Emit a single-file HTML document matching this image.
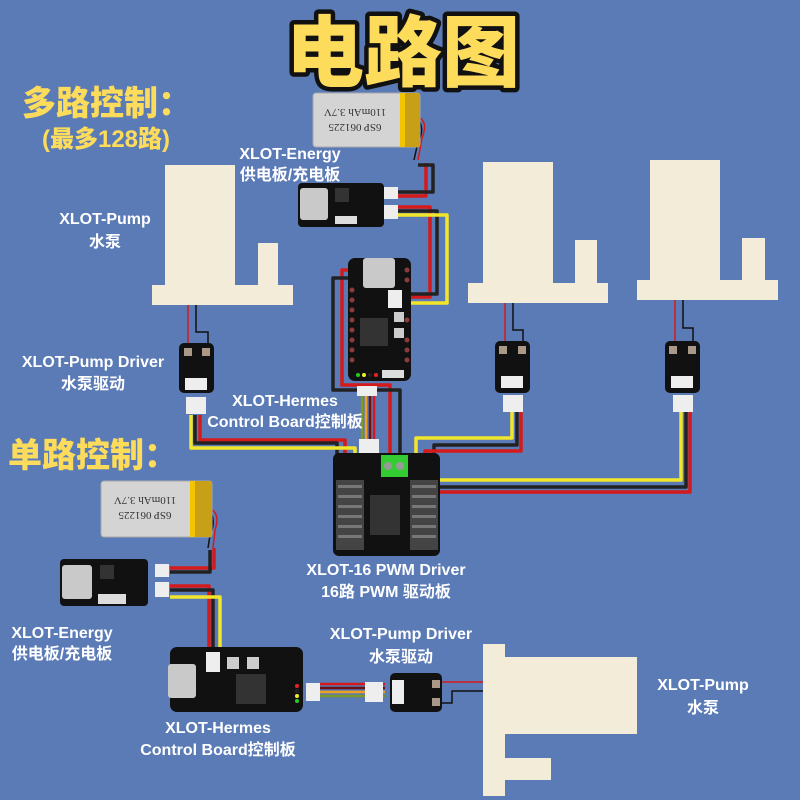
<!DOCTYPE html>
<html><head><meta charset="utf-8"><style>
html,body{margin:0;padding:0;background:#5b7bb7;}
svg{display:block}
.t{font-family:"Liberation Sans","Noto Sans CJK SC",sans-serif;font-weight:bold;fill:#fff;text-anchor:middle;font-size:16px;}
.y{font-family:"Liberation Sans","Noto Sans CJK SC",sans-serif;font-weight:900;fill:#fddc5c;}
.w{fill:none;stroke-width:3.5;stroke-linejoin:round;}
.r{stroke:#d41a1a}.k{stroke:#222}.yl{stroke:#f2e62a}
.pump{fill:#f3ecd8}
.brd{fill:#111}
.pad{fill:#8a3b3b}
.usb{fill:#c9c9c9}
.chip{fill:#333}
.con{fill:#eee}
</style></head><body>
<svg width="800" height="800" viewBox="0 0 800 800" xmlns="http://www.w3.org/2000/svg">
<rect width="800" height="800" fill="#5b7bb7"/>
<!-- title -->
<text x="403" y="80" text-anchor="middle" class="y" font-size="78" stroke="#111" stroke-width="9" paint-order="stroke" style="stroke-linejoin:round">电路图</text>
<text x="22" y="115" class="y" font-size="34">多路控制：</text>
<text x="42" y="147" class="y" font-size="24">(最多128路)</text>
<text x="8" y="467" class="y" font-size="34">单路控制：</text>

<!-- pumps -->
<g class="pump">
<rect x="165" y="165" width="70" height="125"/><rect x="152" y="285" width="141" height="20"/><rect x="258" y="243" width="20" height="45"/>
<rect x="483" y="162" width="70" height="125"/><rect x="468" y="283" width="140" height="20"/><rect x="575" y="240" width="22" height="45"/>
<rect x="650" y="160" width="70" height="125"/><rect x="637" y="280" width="141" height="20"/><rect x="742" y="238" width="23" height="45"/>
<rect x="483" y="644" width="22" height="152"/><rect x="483" y="657" width="154" height="77"/><rect x="483" y="758" width="68" height="22"/>
</g>

<!-- thin pump wires -->
<g fill="none" stroke-width="1.5">
<path d="M188 305 V350" stroke="#d41a1a"/><path d="M196 305 V332 H208 V350" stroke="#111"/>
<path d="M505 303 V348" stroke="#d41a1a"/><path d="M513 303 V330 H523 V348" stroke="#111"/>
<path d="M675 300 V348" stroke="#d41a1a"/><path d="M683 300 V328 H693 V348" stroke="#111"/>
<path d="M442 682 H483" stroke="#d41a1a"/><path d="M442 703 H452 V691 H483" stroke="#111"/>
<path d="M420 118 q8 5 2 20 l-4 22" stroke="#d41a1a"/><path d="M420 122 q4 10 -2 20 l-4 18" stroke="#111"/>
<path d="M212 510 q8 5 3 20 l-2 18" stroke="#d41a1a"/><path d="M212 515 q3 10 -2 20 l-2 13" stroke="#111"/>
</g>

<!-- thick wires -->
<g>
<path class="w r" d="M388 196 H426 V163"/><path class="w k" d="M388 192 H433 V165 H418"/>
<path class="w r" d="M388 207 H430 V297 H410"/><path class="w k" d="M388 211 H437 V294 H410"/><path class="w yl" d="M388 215 H447 V303 H410"/>
<path class="w r" d="M355 270 H342 V385 H390 V456"/><path class="w k" d="M355 278 H333 V390 H400 V456"/>
<path class="w r" d="M200 415 V440 H345 V480"/><path class="w k" d="M195 415 V443 H337 V480"/><path class="w yl" d="M191 415 V448 H355 V480"/>
<path class="w yl" d="M512 410 V438 H416 V482"/><path class="w k" d="M517 410 V445 H434 V492"/><path class="w r" d="M521 410 V451 H425 V494"/>
<path class="w yl" d="M681 410 V480 H418"/><path class="w k" d="M686 410 V487 H434"/><path class="w r" d="M690 410 V492 H424"/>
<path class="w r" d="M170 568 H214 V548"/><path class="w k" d="M170 572 H210 V550"/>
<path class="w r" d="M170 586 H209 V652"/><path class="w k" d="M170 590 H213 V652"/><path class="w yl" d="M170 597 H220 V652"/>
</g>
<!-- short ribbon wires -->
<g stroke-width="2.5">
<path d="M362 395 V440" stroke="#7a9a2a"/><path d="M366 395 V440" stroke="#f0a020"/><path d="M370 395 V440" stroke="#6a1010"/><path d="M374 395 V440" stroke="#d41a1a"/>
<path d="M320 684 H385" stroke="#d41a1a"/><path d="M320 688 H385" stroke="#6a1010"/><path d="M320 692 H385" stroke="#f0a020"/><path d="M320 696 H385" stroke="#7a9a2a"/>
</g>

<!-- batteries -->
<g>
<rect x="313" y="93" width="107" height="54" rx="3" fill="#d4d4d4" stroke="#aaa"/><rect x="400" y="93" width="20" height="54" fill="#c8a018"/><rect x="400" y="93" width="5" height="54" fill="#f5c400"/>
<text x="355" y="115" font-family="Liberation Serif,serif" font-size="11" fill="#333" text-anchor="middle" transform="rotate(180 355 112)">110mAh 3.7V</text>
<text x="355" y="132" font-family="Liberation Serif,serif" font-size="11" fill="#333" text-anchor="middle" transform="rotate(180 355 128)">6SP 061225</text>
<rect x="101" y="481" width="111" height="56" rx="3" fill="#d4d4d4" stroke="#aaa"/><rect x="190" y="481" width="22" height="56" fill="#c8a018"/><rect x="190" y="481" width="5" height="56" fill="#f5c400"/>
<text x="145" y="503" font-family="Liberation Serif,serif" font-size="11" fill="#333" text-anchor="middle" transform="rotate(180 145 500)">110mAh 3.7V</text>
<text x="145" y="520" font-family="Liberation Serif,serif" font-size="11" fill="#333" text-anchor="middle" transform="rotate(180 145 516)">6SP 061225</text>
</g>

<!-- energy boards -->
<g>
<rect class="brd" x="298" y="183" width="86" height="44" rx="4"/><rect class="usb" x="300" y="188" width="28" height="32" rx="3"/><rect class="chip" x="335" y="188" width="14" height="14"/><rect x="335" y="216" width="22" height="8" fill="#ddd"/>
<rect class="con" x="384" y="187" width="14" height="12"/><rect class="con" x="384" y="205" width="14" height="14"/>
<rect class="brd" x="60" y="559" width="88" height="47" rx="4"/><rect class="usb" x="62" y="565" width="30" height="34" rx="3"/><rect class="chip" x="100" y="565" width="14" height="14"/><rect x="98" y="594" width="28" height="10" fill="#ddd"/>
<rect class="con" x="155" y="564" width="14" height="13"/><rect class="con" x="155" y="582" width="14" height="15"/>
</g>

<!-- hermes top -->
<g>
<rect class="brd" x="348" y="258" width="63" height="123" rx="7"/>
<rect class="usb" x="363" y="258" width="32" height="30" rx="3"/>
<rect class="chip" x="360" y="318" width="28" height="28"/>
<rect x="394" y="312" width="10" height="10" fill="#ccc"/><rect x="394" y="328" width="10" height="10" fill="#ccc"/>
<rect class="con" x="388" y="290" width="14" height="18"/>
<g class="pad"><circle cx="352" cy="290" r="2.5"/><circle cx="352" cy="300" r="2.5"/><circle cx="352" cy="310" r="2.5"/><circle cx="352" cy="320" r="2.5"/><circle cx="352" cy="330" r="2.5"/><circle cx="352" cy="340" r="2.5"/><circle cx="352" cy="350" r="2.5"/><circle cx="352" cy="360" r="2.5"/><circle cx="407" cy="270" r="2.5"/><circle cx="407" cy="280" r="2.5"/><circle cx="407" cy="320" r="2.5"/><circle cx="407" cy="340" r="2.5"/><circle cx="407" cy="350" r="2.5"/><circle cx="407" cy="360" r="2.5"/></g>
<circle cx="358" cy="375" r="2" fill="#2c2"/><circle cx="364" cy="375" r="2" fill="#ee2"/><circle cx="370" cy="375" r="2" fill="#222"/><circle cx="376" cy="375" r="2" fill="#e22"/>
<rect x="382" y="370" width="22" height="8" fill="#ddd"/>
<rect class="con" x="357" y="386" width="20" height="10"/><rect class="con" x="359" y="439" width="20" height="14"/>
</g>

<!-- pwm driver -->
<g>
<rect class="brd" x="333" y="453" width="107" height="103" rx="6"/>
<rect x="381" y="455" width="27" height="22" fill="#3c3"/><circle cx="388" cy="466" r="4" fill="#999"/><circle cx="400" cy="466" r="4" fill="#999"/>
<rect class="chip" x="370" y="495" width="30" height="40"/>
<g fill="#444"><rect x="336" y="480" width="28" height="70"/><rect x="410" y="480" width="28" height="70"/></g>
<g fill="#777"><rect x="338" y="485" width="24" height="3"/><rect x="338" y="495" width="24" height="3"/><rect x="338" y="505" width="24" height="3"/><rect x="338" y="515" width="24" height="3"/><rect x="338" y="525" width="24" height="3"/><rect x="338" y="535" width="24" height="3"/><rect x="412" y="485" width="24" height="3"/><rect x="412" y="495" width="24" height="3"/><rect x="412" y="505" width="24" height="3"/><rect x="412" y="515" width="24" height="3"/><rect x="412" y="525" width="24" height="3"/><rect x="412" y="535" width="24" height="3"/></g>
</g>

<!-- pump drivers -->
<g>
<rect class="brd" x="179" y="343" width="35" height="50" rx="5"/><rect class="con" x="185" y="378" width="22" height="12"/><rect class="con" x="186" y="397" width="20" height="17"/>
<rect x="184" y="348" width="8" height="8" fill="#a98"/><rect x="202" y="348" width="8" height="8" fill="#a98"/>
<rect class="brd" x="495" y="341" width="35" height="52" rx="5"/><rect class="con" x="501" y="376" width="22" height="12"/><rect class="con" x="503" y="395" width="20" height="17"/>
<rect x="499" y="346" width="8" height="8" fill="#a98"/><rect x="518" y="346" width="8" height="8" fill="#a98"/>
<rect class="brd" x="665" y="341" width="35" height="52" rx="5"/><rect class="con" x="671" y="376" width="22" height="12"/><rect class="con" x="673" y="395" width="20" height="17"/>
<rect x="669" y="346" width="8" height="8" fill="#a98"/><rect x="688" y="346" width="8" height="8" fill="#a98"/>
<rect class="brd" x="390" y="673" width="52" height="39" rx="5"/><rect class="con" x="392" y="680" width="12" height="24"/><rect class="con" x="365" y="682" width="18" height="20"/>
<rect x="432" y="680" width="8" height="8" fill="#a98"/><rect x="432" y="698" width="8" height="8" fill="#a98"/>
</g>

<!-- hermes bottom -->
<g>
<rect class="brd" x="170" y="647" width="133" height="65" rx="7"/>
<rect class="usb" x="168" y="664" width="28" height="34" rx="3"/>
<rect class="chip" x="236" y="674" width="30" height="30"/>
<rect x="227" y="657" width="12" height="12" fill="#ccc"/><rect x="247" y="657" width="12" height="12" fill="#ccc"/>
<rect class="con" x="206" y="652" width="14" height="20"/>
<rect class="con" x="306" y="683" width="14" height="18"/>
<circle cx="297" cy="686" r="2" fill="#e22"/><circle cx="297" cy="691" r="2" fill="#222"/><circle cx="297" cy="696" r="2" fill="#ee2"/><circle cx="297" cy="701" r="2" fill="#2c2"/>
</g>

<!-- labels -->
<text class="t" x="290" y="159">XLOT-Energy</text><text class="t" x="290" y="180">供电板/充电板</text>
<text class="t" x="105" y="224">XLOT-Pump</text><text class="t" x="105" y="247">水泵</text>
<text class="t" x="93" y="367">XLOT-Pump Driver</text><text class="t" x="93" y="389">水泵驱动</text>
<text class="t" x="285" y="406">XLOT-Hermes</text><text class="t" x="285" y="427">Control Board控制板</text>
<text class="t" x="386" y="575">XLOT-16 PWM Driver</text><text class="t" x="386" y="597">16路 PWM 驱动板</text>
<text class="t" x="62" y="638">XLOT-Energy</text><text class="t" x="62" y="659">供电板/充电板</text>
<text class="t" x="401" y="639">XLOT-Pump Driver</text><text class="t" x="401" y="662">水泵驱动</text>
<text class="t" x="218" y="733">XLOT-Hermes</text><text class="t" x="218" y="755">Control Board控制板</text>
<text class="t" x="703" y="690">XLOT-Pump</text><text class="t" x="703" y="713">水泵</text>
</svg>
</body></html>
